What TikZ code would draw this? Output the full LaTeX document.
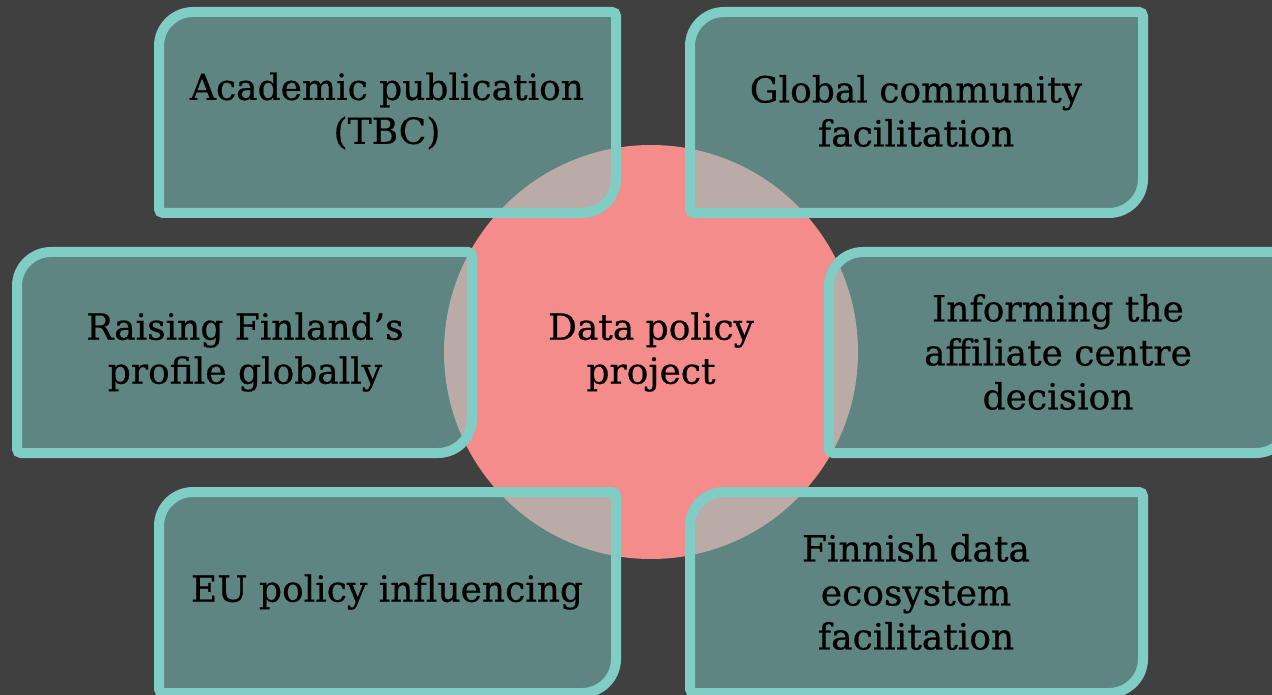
\documentclass[tikz,border=0pt]{standalone}
\usepackage{fontspec}
\setmainfont{DejaVu Serif}
\newfontfamily\lblfont[FakeBold=0.6]{DejaVu Serif}
\definecolor{bgc}{RGB}{64,64,64}
\definecolor{pinkc}{RGB}{244,140,140}
\definecolor{tealc}{RGB}{127,205,197}
\tikzset{
  boxline/.style={draw=tealc, line width=10pt, fill=tealc, fill opacity=0.49, draw opacity=1},
  lbl/.style={align=center, text=black, font=\lblfont\fontsize{36}{44}\selectfont, inner sep=0pt, text opacity=1},
}
\newcommand{\dbox}[4]{% x1,y1,x2,y2
  \path[boxline] ({#1},{(#2+#4)/2}) [rounded corners=34pt] |- ({(#1+#3)/2},{#2}) [rounded corners=4pt] -| ({#3},{(#2+#4)/2}) [rounded corners=34pt] |- ({(#1+#3)/2},{#4}) [rounded corners=4pt] -| cycle;}
\begin{document}
\begin{tikzpicture}[x=1pt,y=-1pt]
\path[fill=bgc] (0,0) rectangle (1272,695);
\useasboundingbox (0,0) rectangle (1272,695);
\fill[pinkc] (651,352) circle[radius=207];
\node[lbl] (center) at (651,352) {Data policy\\project};
\dbox{159}{12}{616}{213}
\dbox{690}{12}{1143}{213}
\dbox{17}{252}{472}{453}
\dbox{829}{252}{1290}{453}
\dbox{159}{492}{616}{693}
\dbox{690}{492}{1143}{693}
\node[lbl] (acad) at (387,111) {Academic publication\\(TBC)};
\node[lbl] (glob) at (916,111) {Global community\\facilitation};
\node[lbl] (fin) at (245,352) {Raising Finland’s\\profile globally};
\node[lbl] (inf) at (1058,352) {Informing the\\affiliate centre\\decision};
\node[lbl] (eu) at (387,592) {EU policy influencing};
\node[lbl] (eco) at (916,592) {Finnish data\\ecosystem\\facilitation};
\end{tikzpicture}
\end{document}
